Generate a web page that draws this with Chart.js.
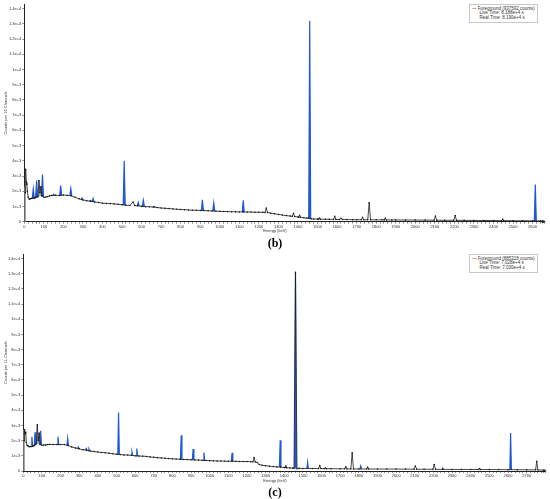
<!DOCTYPE html>
<html><head><meta charset="utf-8">
<script src="https://cdn.jsdelivr.net/npm/chart.js@4.4.1/dist/chart.umd.min.js"></script>
<style>
html,body{margin:0;padding:0;background:#fff;width:550px;height:499px;overflow:hidden;position:relative;font-family:'Liberation Sans',Arial,sans-serif}
canvas{position:absolute;left:0}
#cb{top:0}
#cc{top:250px}
.legend{position:absolute;left:469px;width:69px;height:19px;border:1px solid #c8c8c8;background:#fff;overflow:hidden;box-sizing:border-box}
.legend .in{transform:scale(0.5);transform-origin:0 0;width:140px;font-size:9px;line-height:9px;color:#333;padding:2px 0 0 4px;white-space:nowrap}
.legend .ind{padding-left:15px}
.lab{position:absolute;left:0;width:550px;text-align:center;font-family:'Liberation Serif','Times New Roman',serif;font-weight:bold;font-size:12px;line-height:12px;color:#000}
.xt{position:absolute;left:175px;width:200px;height:8px;text-align:center;font-size:8px;line-height:8px;color:#333;transform:scale(0.5);transform-origin:50% 50%;white-space:nowrap}
</style></head><body>
<canvas id="cb" width="550" height="240"></canvas>
<canvas id="cc" width="550" height="240"></canvas>
<div class="legend" style="top:4px"><div class="in"><div>— Foreground (937592 counts)</div><div class="ind">Live Time: 8.188e+4 s</div><div class="ind">Real Time: 8.190e+4 s</div></div></div>
<div class="legend" style="top:254px"><div class="in"><div>— Foreground (885318 counts)</div><div class="ind">Live Time: 7.028e+4 s</div><div class="ind">Real Time: 7.030e+4 s</div></div></div>
<div class="xt" style="top:227px">Energy (keV)</div>
<div class="xt" style="top:477px">Energy (keV)</div>
<div class="lab" style="top:237px">(b)</div>
<div class="lab" style="top:486px">(c)</div>
<script>
// ---------- tick labels ----------
const yTickVals = [0,1000,2000,3000,4000,5000,6000,7000,8000,9000,10000,11000,12000,13000,14000];
const yTickLabels = ['0','1e+3','2e+3','3e+3','4e+3','5e+3','6e+3','7e+3','8e+3','9e+3','1e+4','1.1e+4','1.2e+4','1.3e+4','1.4e+4'];
const xTicksB = [0,100,200,300,400,500,600,700,800,900,1000,1100,1200,1300,1400,1500,1600,1700,1800,1900,2000,2100,2200,2300,2400,2500,2600];
const xTicksC = [0,100,200,300,400,500,600,700,800,900,1000,1100,1200,1300,1400,1500,1600,1700,1800,1900,2000,2100,2200,2300,2400,2500,2600,2700];

// ---------- panel (b): continuum (energy keV, counts) ----------
const energyB = [4,7,10,13,16,20,25,30,35,40,50,55,60,70,75,80,85,90,100,110,120,130,140,160,180,200,220,240,260,280,300,320,340,360,380,400,420,440,460,480,500,520,540,556,565,580,600,620,640,660,680,700,720,740,760,780,800,820,840,860,880,900,920,940,960,980,1000,1020,1040,1060,1080,1100,1120,1140,1160,1180,1200,1220,1232,1238,1244,1260,1280,1300,1320,1340,1360,1371,1377,1383,1400,1404,1408,1412,1430,1445,1455,1468,1480,1500,1505,1510,1515,1540,1560,1582,1588,1594,1612,1620,1628,1650,1680,1700,1724,1730,1736,1757,1764,1771,1800,1830,1842,1847,1852,1880,1900,1950,2000,2050,2096,2103,2110,2150,2197,2204,2211,2250,2300,2350,2400,2442,2447,2452,2500,2550,2600,2640,2660];
const countsB = [1900,3450,2600,2450,2000,1600,1480,1500,1520,1540,1550,1560,1600,1650,2700,1900,2300,1700,1600,1620,1650,1700,1720,1740,1720,1750,1730,1700,1600,1500,1430,1380,1340,1300,1260,1220,1200,1190,1170,1150,1110,1080,1070,1300,1060,1040,1010,990,980,960,930,900,880,860,840,820,800,790,770,760,750,740,730,720,705,690,680,670,665,655,650,645,640,635,630,625,620,615,610,900,600,560,520,480,440,400,370,350,550,340,310,300,420,290,260,235,220,190,180,170,168,240,165,160,155,150,350,148,145,220,142,140,135,132,130,290,128,126,1250,124,122,120,118,240,117,115,113,111,110,105,100,370,98,95,92,400,90,88,84,80,75,70,170,68,65,62,58,52,45];
// identified (blue) peaks
const peakEnergyB = [46,63,93,150,186,238,295,338,352,511,583,609,665,911,969,1120,1460,2614];
const peakTopB    = [2150,2700,3100,1800,2370,2180,1560,1400,1530,4000,1270,1410,1000,1430,1240,1410,13200,2450];
const peakBaseB   = [1550,1600,1650,1720,1720,1720,1430,1340,1300,1100,1040,1010,960,740,700,640,220,58];
// grey regions
const greyB1E = [1,1,6,6],            greyB1C = [0,2300,2300,0];
const greyB2E = [70,75,80,85,90],     greyB2C = [1650,2700,1900,2300,1700];

// ---------- panel (c) ----------
const energyC = [4,7,10,13,16,20,25,30,35,40,50,55,60,70,75,80,85,90,100,110,120,130,140,160,180,200,220,240,260,280,300,320,340,360,380,400,420,440,460,480,500,520,540,560,580,600,620,640,660,680,700,720,740,760,780,800,820,840,860,880,900,920,940,960,980,1000,1020,1040,1060,1080,1100,1120,1140,1160,1180,1200,1220,1232,1238,1244,1255,1265,1280,1300,1320,1340,1360,1380,1400,1404,1408,1412,1430,1445,1452,1460,1468,1480,1500,1550,1584,1590,1596,1614,1620,1626,1650,1700,1724,1730,1736,1757,1764,1771,1800,1842,1847,1852,1900,1950,2000,2050,2096,2103,2110,2150,2197,2204,2211,2250,2300,2350,2400,2442,2447,2452,2500,2550,2600,2650,2700,2748,2754,2760,2800];
const countsC = [2000,2720,2450,2550,1900,1700,1650,1620,1600,1610,1640,1650,1700,1800,3050,2000,2500,1750,1700,1710,1720,1740,1750,1750,1740,1750,1740,1680,1580,1520,1460,1400,1370,1320,1280,1250,1220,1200,1170,1140,1100,1080,1060,1050,1030,1000,990,980,960,930,900,880,860,840,820,800,790,770,760,750,740,730,720,705,690,680,670,665,655,650,645,640,635,630,625,620,615,610,890,600,560,430,380,350,320,290,270,250,230,225,330,220,200,190,180,13100,150,180,170,165,160,370,158,155,200,152,150,145,142,280,140,138,1200,136,134,132,250,131,130,130,128,124,120,330,118,115,112,430,110,108,105,102,100,98,170,97,95,92,90,85,80,75,650,72,65];
const peakEnergyC = [46,63,93,186,238,295,338,352,511,583,609,847,911,969,1120,1378,1460,1525,1810,2250,2614];
const peakTopC    = [2250,2550,2650,2250,2150,1580,1480,1450,3850,1250,1480,2350,1450,1220,1200,2030,13100,570,330,170,2500];
const peakBaseC   = [1610,1700,1750,1740,1680,1460,1370,1320,1100,1030,1000,770,740,700,640,260,180,165,133,108,90];
const greyC1E = [1,1,6,6],            greyC1C = [0,2700,2700,0];
const greyC2E = [70,75,80,85,90],     greyC2C = [1800,3050,2000,2500,1750];

const BLUE = '#1f58d6';
Chart.defaults.font.family = "'Liberation Sans', Arial, sans-serif";

const arrowPlugin = {
  id: 'axisArrow',
  afterDraw(c) {
    const {ctx, chartArea: a} = c;
    ctx.save();
    ctx.fillStyle = '#222';
    ctx.beginPath();
    ctx.moveTo(a.right + 1.5, a.bottom);
    ctx.lineTo(a.right - 2.5, a.bottom - 1.8);
    ctx.lineTo(a.right - 2.5, a.bottom + 1.8);
    ctx.closePath();
    ctx.fill();
    ctx.restore();
  }
};

function build(id, E, C, pE, pTop, pBase, greys, pw, xMax, xTicks, yTitle, g) {
  const datasets = [];
  datasets.push({
    data: E.map((x, i) => ({x, y: C[i]})),
    borderColor: '#1c1c1c', borderWidth: 0.8,
    pointRadius: 0.75, pointBackgroundColor: '#111', pointBorderWidth: 0,
    fill: false, tension: 0, order: 0
  });
  pE.forEach((e, i) => {
    datasets.push({
      data: [{x: e - pw, y: pBase[i]}, {x: e, y: pTop[i]}, {x: e + pw, y: pBase[i]}],
      borderColor: BLUE, backgroundColor: BLUE, borderWidth: 1.2,
      pointRadius: 0, fill: 'shape', tension: 0, order: 1
    });
  });
  greys.forEach(gr => {
    datasets.push({
      data: gr[0].map((x, i) => ({x, y: gr[1][i]})),
      borderColor: '#9a9a9a', backgroundColor: '#ababab', borderWidth: 0.5,
      pointRadius: 0, fill: 'shape', tension: 0, order: 2
    });
  });
  new Chart(document.getElementById(id), {
    type: 'line',
    data: {datasets},
    plugins: [arrowPlugin],
    options: {
      responsive: false, animation: false, devicePixelRatio: 1,
      layout: {padding: {top: g.top, right: 550 - g.right, left: 0, bottom: 0}},
      plugins: {legend: {display: false}, tooltip: {enabled: false}},
      scales: {
        x: {
          type: 'linear', min: 0, max: xMax,
          afterFit(s) { s.height = 240 - g.bottom; s.paddingLeft = 0; s.paddingRight = 0; },
          afterBuildTicks(s) { const t = []; for (let v = 0; v <= xMax; v += 20) t.push({value: v}); s.ticks = t; },
          ticks: {autoSkip: false, maxRotation: 0, minRotation: 0, padding: 0.5, font: {size: 4}, color: '#333',
                  callback: (v) => xTicks.includes(v) ? String(v) : ''},
          grid: {drawOnChartArea: false, drawTicks: true, tickLength: 2, color: '#444', lineWidth: 0.6},
          border: {display: true, color: '#222', width: 1},
          title: {display: false}
        },
        y: {
          type: 'linear', min: 0, max: 14300,
          afterFit(s) { s.width = g.left; s.paddingTop = 0; s.paddingBottom = 0; },
          afterBuildTicks(s) { s.ticks = yTickVals.map(v => ({value: v})); },
          ticks: {autoSkip: false, padding: 1, font: {size: 4}, color: '#333',
                  callback: (v) => { const i = yTickVals.indexOf(v); return i >= 0 ? yTickLabels[i] : ''; }},
          grid: {drawOnChartArea: false, drawTicks: true, tickLength: 2, color: '#444', lineWidth: 0.6},
          border: {display: true, color: '#222', width: 1},
          title: {display: true, text: yTitle, font: {size: 4}, color: '#333', padding: {top: 3, bottom: 0}}
        }
      }
    }
  });
}

build('cb', energyB, countsB, peakEnergyB, peakTopB, peakBaseB,
      [[greyB1E, greyB1C], [greyB2E, greyB2C]], 5, 2660, xTicksB, 'Counts per 10 Channels',
      {left: 24.3, right: 544.3, top: 2.7, bottom: 221.7});
build('cc', energyC, countsC, peakEnergyC, peakTopC, peakBaseC,
      [[greyC1E, greyC1C], [greyC2E, greyC2C]], 4, 2800, xTicksC, 'Counts per 11 Channels',
      {left: 23.3, right: 545.3, top: 2.1, bottom: 221});
</script>
</body></html>
